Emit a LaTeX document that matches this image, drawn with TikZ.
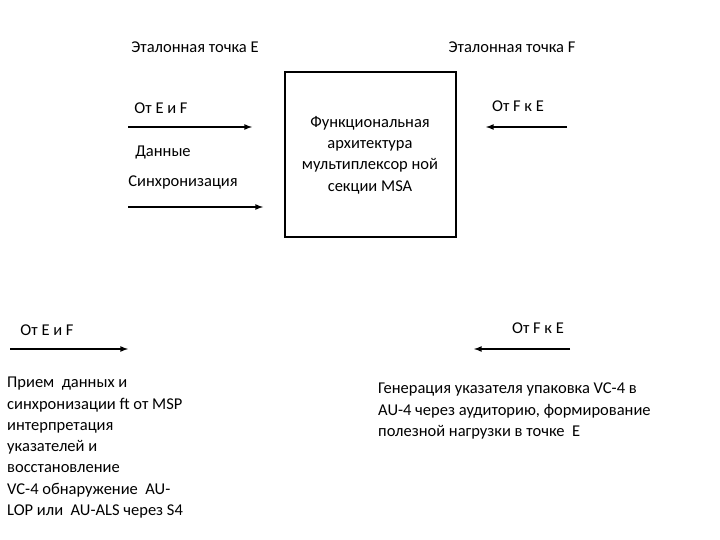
\documentclass[tikz,border=0pt]{standalone}
\usepackage{fontspec}
\setmainfont{Carlito}
\usetikzlibrary{arrows.meta}
\tikzset{
	lbl/.style={inner sep=0pt, font=\fontsize{16.5}{21.3}\selectfont},
	blk/.style={lbl, align=left, anchor=north west},
	flow/.style={line width=1.6pt, -latex}
}
\begin{document}
\begin{tikzpicture}[x=1pt, y=-1pt]
	\useasboundingbox (0,0) rectangle (720,540);
	% headings
	\node[lbl] (refE) at (195,47) {Эталонная точка E};
	\node[lbl] (refF) at (512,47) {Эталонная точка F};

	% central block
	\draw[line width=1.2pt] (285,72) rectangle (456,237);
	\node[lbl, align=center] (msa) at (370,155) {Функциональная\\архитектура\\мультиплексор ной\\секции MSA};

	% upper left inputs
	\node[lbl] (ef1) at (161,108) {От E и F};
	\node[lbl] (dat) at (163,152) {Данные};
	\node[lbl] (syn) at (183,183) {Синхронизация};
	\coordinate (a1s) at (128,127); \coordinate (a1e) at (252,127);
	\coordinate (a2s) at (128,207); \coordinate (a2e) at (263,207);
	\draw[flow] (a1s) -- (a1e);
	\draw[flow] (a2s) -- (a2e);

	% upper right input
	\node[lbl] (fe1) at (518,106) {От F к E};
	\coordinate (a3s) at (567,127); \coordinate (a3e) at (486,127);
	\draw[flow] (a3s) -- (a3e);

	% lower part
	\node[lbl] (ef2) at (47,330) {От E и F};
	\coordinate (a4s) at (10,349); \coordinate (a4e) at (128,349);
	\draw[flow] (a4s) -- (a4e);
	\node[lbl] (fe2) at (538,328) {От F к E};
	\coordinate (a5s) at (570,349); \coordinate (a5e) at (474,349);
	\draw[flow] (a5s) -- (a5e);

	\node[blk] (rx) at (7,377) {Прием\ \ данных и\\синхронизации ft от MSP\\интерпретация\\указателей и\\восстановление\\VC-4 обнаружение\ \ AU-\\LOP или\ \ AU-ALS через S4};
	\node[blk] (gen) at (378,383) {Генерация указателя упаковка VC-4 в\\AU-4 через аудиторию, формирование\\полезной нагрузки в точке\ \ E};
\end{tikzpicture}
\end{document}
